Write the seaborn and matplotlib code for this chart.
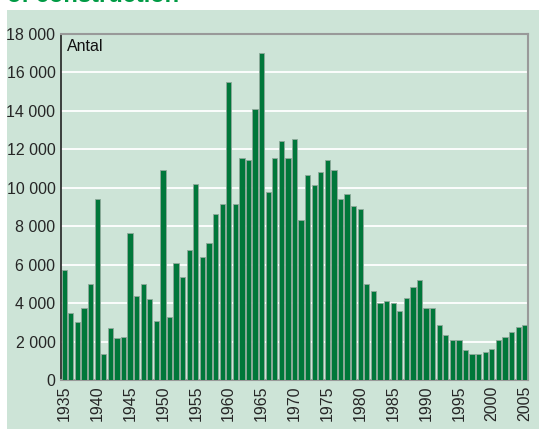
import matplotlib
matplotlib.use('Agg')
import matplotlib.pyplot as plt
import seaborn as sns
from matplotlib.patches import Rectangle

# ── Data ──────────────────────────────────────────────
years = list(range(1935, 2006))
antal = [
    5700, 3480, 3040, 3770, 4980, 9430, 1370, 2690, 2170, 2260,   # 1935-1944
    7640, 4380, 4980, 4200, 3060, 10900, 3300, 6080, 5350, 6770,  # 1945-1954
    10210, 6410, 7120, 8610, 9150, 15500, 9150, 11540, 11440, 14100,  # 1955-1964
    17010, 9770, 11540, 12410, 11540, 12520, 8330, 10660, 10120, 10820,  # 1965-1974
    11440, 10900, 9410, 9690, 9060, 8890, 4980, 4650, 4030, 4110,  # 1975-1984
    4030, 3580, 4290, 4830, 5190, 3770, 3770, 2860, 2340, 2080,    # 1985-1994
    2080, 1540, 1370, 1370, 1460, 1630, 2080, 2260, 2520, 2780,    # 1995-2004
    2860,                                                          # 2005
]
y_ticks = list(range(0, 18001, 2000))
y_labels = [f"{v:,}".replace(",", " ") for v in y_ticks]
x_label_years = list(range(1935, 2006, 5))

bg = '#cde4d7'
bar_green = '#00773a'

sns.set_theme(style='white')
plt.rcParams['font.family'] = ['Liberation Sans', 'DejaVu Sans']

fig = plt.figure(figsize=(5.39, 4.29), dpi=100)
fig.patch.set_facecolor('white')
# light green panel behind the chart
fig.patches.append(Rectangle((7 / 539, 0), 1 - 7 / 539, 1 - 10 / 429,
                             transform=fig.transFigure, facecolor=bg,
                             edgecolor='none', zorder=-5))
# heading above, cut off by the image edge as in the original
fig.text(7 / 539, 1 - 2 / 429, 'of construction', fontsize=17,
         fontweight='bold', color='#009a44', va='baseline', ha='left')

ax = fig.add_axes([61 / 539, 1 - 380 / 429, 467 / 539, 346 / 429])
ax.set_zorder(2)
ax.set_facecolor(bg)

sns.barplot(x=years, y=antal, color=bar_green, width=0.8,
            edgecolor='#8fa99a', linewidth=0.6, saturation=1, ax=ax, zorder=3)

ax.set_ylim(0, 18000)
ax.set_xlim(-0.5, len(years) - 0.5)
ax.set_yticks(y_ticks)
ax.set_yticklabels(y_labels, fontsize=11.5)
ax.set_xticks([years.index(y) for y in x_label_years])
ax.set_xticklabels([str(y) for y in x_label_years], rotation=90, fontsize=11.5)
ax.tick_params(axis='both', length=0, pad=4)
ax.yaxis.grid(True, color='white', linewidth=1.3, zorder=0)
ax.set_axisbelow(True)
ax.set_xlabel('')
ax.set_ylabel('')

for side in ['top', 'right', 'bottom']:
    ax.spines[side].set_color('#999999')
    ax.spines[side].set_linewidth(1.5)
ax.spines['left'].set_color('#222222')
ax.spines['left'].set_linewidth(1.2)

ax.text(0.012, 0.985, 'Antal', transform=ax.transAxes, fontsize=11.5,
        va='top', ha='left', color='#111111')

fig.savefig('out.png', dpi=100, facecolor=fig.get_facecolor())
